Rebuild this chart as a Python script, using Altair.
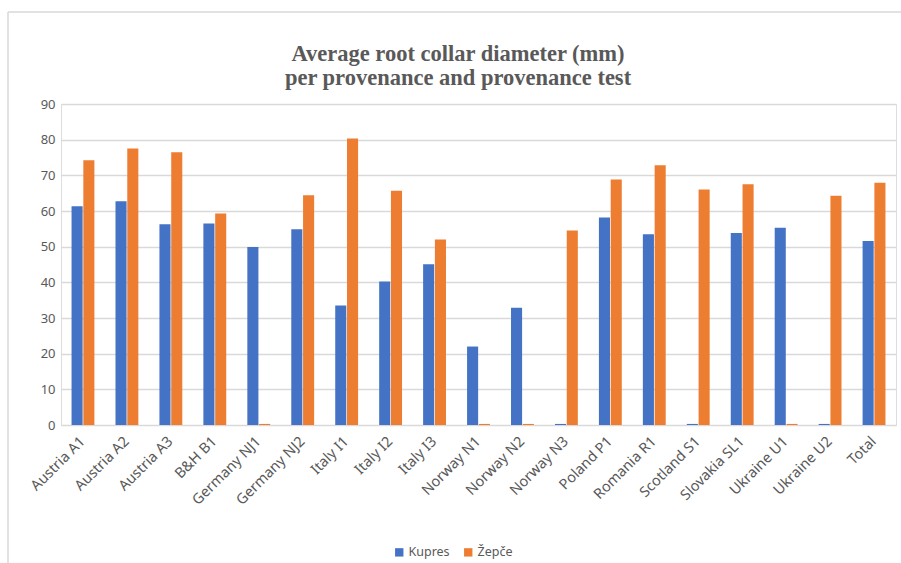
import altair as alt
import pandas as pd

categories = ["Austria A1", "Austria A2", "Austria A3", "B&H B1", "Germany NJ1", "Germany NJ2",
              "Italy I1", "Italy I2", "Italy I3", "Norway N1", "Norway N2", "Norway N3",
              "Poland P1", "Romania  R1", "Scotland S1", "Slovakia SL1", "Ukraine U1", "Ukraine U2", "Total"]
kupres = [61.3, 62.7, 56.3, 56.5, 49.9, 54.9, 33.5, 40.2, 45.1, 22.0, 32.9, 0.3,
          58.2, 53.5, 0.3, 53.8, 55.3, 0.3, 51.6]
zepce = [74.2, 77.5, 76.5, 59.3, 0.3, 64.4, 80.3, 65.7, 52.0, 0.3, 0.3, 54.5,
         68.8, 72.8, 66.0, 67.5, 0.3, 64.3, 67.9]
series = ["Kupres", "Žepče"]
colors = ["#4472C4", "#ED7D31"]
title_lines = ["Average root collar diameter (mm)", "per provenance and provenance test"]

rows = []
for c, k, z in zip(categories, kupres, zepce):
    rows.append({"cat": c, "series": series[0], "value": k})
    rows.append({"cat": c, "series": series[1], "value": z})
df = pd.DataFrame(rows)

W, H = 835, 321
PL, PT = 61, 104

bars = alt.Chart(df).mark_bar().encode(
    x=alt.X("cat:N", sort=categories, title=None,
            scale=alt.Scale(paddingInner=0.48, paddingOuter=0.24),
            axis=alt.Axis(labelAngle=-45, labelAlign="right", labelBaseline="middle",
                          labelFont="Noto Sans", labelFontSize=14.5, labelColor="#595959",
                          labelPadding=14, ticks=False, domain=False, grid=False)),
    xOffset=alt.XOffset("series:N", sort=series, scale=alt.Scale(paddingInner=0.06)),
    y=alt.Y("value:Q", title=None,
            scale=alt.Scale(domain=[0, 90], nice=False),
            axis=alt.Axis(values=list(range(0, 91, 10)), labelFont="Noto Sans", labelFontSize=13,
                          labelColor="#595959", labelPadding=6, ticks=False, domain=False,
                          gridColor="#d9d9d9", gridWidth=1.5)),
    color=alt.Color("series:N", sort=series,
                    scale=alt.Scale(domain=series, range=colors),
                    legend=alt.Legend(title=None, orient="none", direction="horizontal",
                                      legendX=332, legendY=442, symbolType="square",
                                      symbolSize=70, symbolStrokeWidth=0,
                                      labelFont="Noto Sans", labelFontSize=12.5,
                                      labelColor="#595959", columnPadding=12,
                                      labelOffset=3)),
)

title_df = pd.DataFrame({"line": title_lines, "y": [61 - PT, 85 - PT]})
title = alt.Chart(title_df).mark_text(font="Liberation Serif", fontSize=22.5, fontWeight="bold",
                                      color="#595959", align="center", baseline="alphabetic").encode(
    text="line:N", x=alt.value(458 - PL), y=alt.Y("y:Q", scale=None))

border_top = alt.Chart(pd.DataFrame({"a": [0]})).mark_rule(color="#d9d9d9", strokeWidth=1.5).encode(
    x=alt.value(8 - PL), x2=alt.value(901 - PL), y=alt.value(12 - PT))
border_left = alt.Chart(pd.DataFrame({"a": [0]})).mark_rule(color="#d9d9d9", strokeWidth=1.5).encode(
    x=alt.value(8 - PL), y=alt.value(12 - PT), y2=alt.value(563 - PT))

chart = alt.layer(border_top, border_left, bars, title).properties(
    width=W, height=H,
    autosize=alt.AutoSizeParams(type="none"),
    padding={"left": PL, "top": PT, "right": 901 - PL - W, "bottom": 563 - PT - H},
).resolve_scale(y="independent").configure_view(stroke=None).configure(background="white")

chart.save("out.html", embed_options={"renderer": "svg", "actions": False})
